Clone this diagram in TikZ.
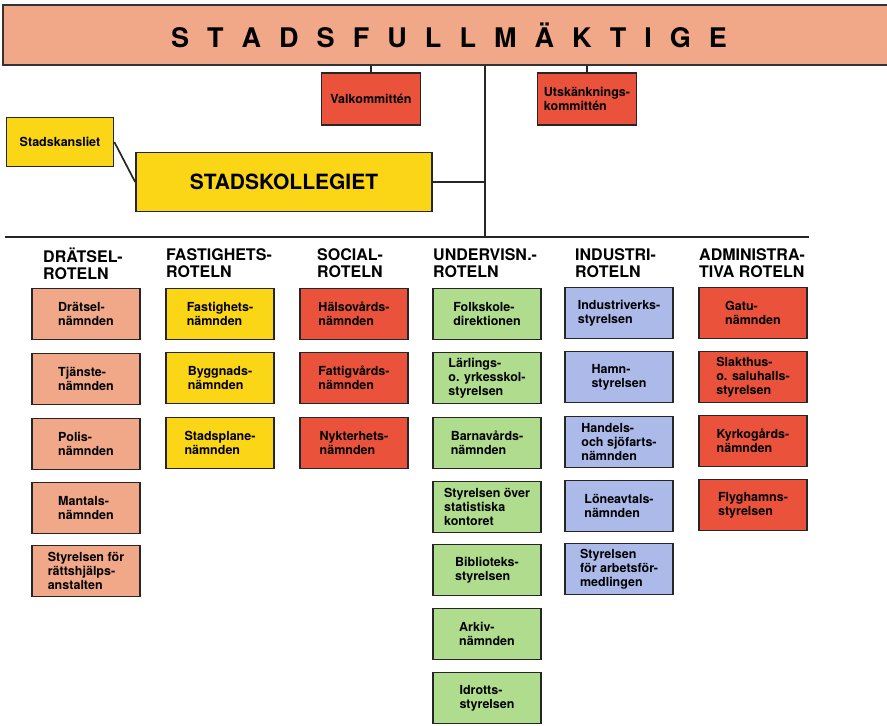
\documentclass[tikz,border=0pt]{standalone}
\usepackage{fontspec}
\setmainfont{TeX Gyre Heros}
\definecolor{laxrosa}{RGB}{240,168,136}
\definecolor{gulbox}{RGB}{250,214,22}
\definecolor{rodbox}{RGB}{234,82,60}
\definecolor{gronbox}{RGB}{176,220,142}
\definecolor{blabox}{RGB}{172,186,234}
\tikzset{
  rotbox/.style={draw=black!85, line width=1.7pt, minimum width=108pt, minimum height=51pt,
    align=left, inner sep=0pt, font=\fontsize{12.5}{14}\selectfont\bfseries},
  rothead/.style={anchor=north west, align=left, inner sep=0pt,
    font=\fontsize{16}{17}\selectfont\bfseries},
  linje/.style={line width=1.7pt, black!85}
}
\begin{document}
\begin{tikzpicture}[x=1pt,y=-1pt]
    \useasboundingbox (0,0) rectangle (887,726);
    % top level
    \node[draw=black!80, line width=1.5pt, fill=laxrosa, minimum width=892pt, minimum height=60pt, inner sep=0pt,
      font=\fontsize{27}{27}\selectfont\bfseries] (fullm) at (449,35)
      {\makebox[556pt][s]{S\hfill T\hfill A\hfill D\hfill S\hfill F\hfill U\hfill L\hfill L\hfill M\hfill Ä\hfill K\hfill T\hfill I\hfill G\hfill E}};
    \node[rotbox, fill=rodbox, minimum width=99pt, minimum height=52pt] (valk) at (371,99) {Valkommittén};
    \node[rotbox, fill=rodbox, minimum width=99pt, minimum height=52pt] (utsk) at (587,99) {Utskänknings-\\kommittén};
    \draw[linje] (valk.north) -- (valk.north |- fullm.south);
    \draw[linje] (utsk.north) -- (utsk.north |- fullm.south);
    % stadskollegiet
    \node[rotbox, fill=gulbox, minimum width=107pt, minimum height=49pt] (kansli) at (60,142) {Stadskansliet};
    \node[rotbox, fill=gulbox, minimum width=296pt, minimum height=59pt, font=\fontsize{21}{21}\selectfont\bfseries] (kolleg) at (284,182) {STADSKOLLEGIET};
    \draw[linje] (kansli.east) -- (kolleg.west);
    \coordinate (split) at (485,237);
    \draw[linje] (split |- fullm.south) -- (split);
    \draw[linje] (kolleg.east) -- (kolleg.east -| split);
    \draw[line width=2.4pt, black!85] (5,237) -- (809,237);
    % rotlar
    \node[rothead] (hdr) at (43,248) {DRÄTSEL-\\ROTELN};
    \node[rothead] (hfa) at (166,248) {FASTIGHETS-\\ROTELN};
    \node[rothead] (hso) at (317,248) {SOCIAL-\\ROTELN};
    \node[rothead] (hun) at (433,248) {UNDERVISN.-\\ROTELN};
    \node[rothead] (hin) at (575,248) {INDUSTRI-\\ROTELN};
    \node[rothead] (had) at (699,248) {ADMINISTRA-\\TIVA ROTELN};
    % drätselroteln
    \node[rotbox, fill=laxrosa] (dr1) at (86,314) {Drätsel-\\nämnden};
    \node[rotbox, fill=laxrosa] (dr2) at (86,379) {Tjänste-\\nämnden};
    \node[rotbox, fill=laxrosa] (dr3) at (86,444) {Polis-\\nämnden};
    \node[rotbox, fill=laxrosa] (dr4) at (86,508) {Mantals-\\nämnden};
    \node[rotbox, fill=laxrosa] (dr5) at (86,571) {Styrelsen för\\rättshjälps-\\anstalten};
    % fastighetsroteln
    \node[rotbox, fill=gulbox] (fa1) at (220,314) {Fastighets-\\nämnden};
    \node[rotbox, fill=gulbox] (fa2) at (220,378) {Byggnads-\\nämnden};
    \node[rotbox, fill=gulbox] (fa3) at (220,443) {Stadsplane-\\nämnden};
    % socialroteln
    \node[rotbox, fill=rodbox] (so1) at (354,314) {Hälsovårds-\\nämnden};
    \node[rotbox, fill=rodbox] (so2) at (354,378) {Fattigvårds-\\nämnden};
    \node[rotbox, fill=rodbox] (so3) at (354,443) {Nykterhets-\\nämnden};
    % undervisningsroteln
    \node[rotbox, fill=gronbox] (un1) at (487,314) {Folkskole-\\direktionen};
    \node[rotbox, fill=gronbox] (un2) at (487,378) {Lärlings-\\o. yrkesskol-\\styrelsen};
    \node[rotbox, fill=gronbox] (un3) at (487,443) {Barnavårds-\\nämnden};
    \node[rotbox, fill=gronbox] (un4) at (487,507) {Styrelsen över\\statistiska\\kontoret};
    \node[rotbox, fill=gronbox] (un5) at (487,570) {Biblioteks-\\styrelsen};
    \node[rotbox, fill=gronbox] (un6) at (487,634) {Arkiv-\\nämnden};
    \node[rotbox, fill=gronbox] (un7) at (487,698) {Idrotts-\\styrelsen};
    % industriroteln
    \node[rotbox, fill=blabox] (in1) at (619,313) {Industriverks-\\styrelsen};
    \node[rotbox, fill=blabox] (in2) at (619,377) {Hamn-\\styrelsen};
    \node[rotbox, fill=blabox] (in3) at (619,442) {Handels-\\och sjöfarts-\\nämnden};
    \node[rotbox, fill=blabox] (in4) at (619,506) {Löneavtals-\\nämnden};
    \node[rotbox, fill=blabox] (in5) at (619,569) {Styrelsen\\för arbetsför-\\medlingen};
    % administrativa roteln
    \node[rotbox, fill=rodbox] (ad1) at (753,313) {Gatu-\\nämnden};
    \node[rotbox, fill=rodbox] (ad2) at (753,377) {Slakthus-\\o. saluhalls-\\styrelsen};
    \node[rotbox, fill=rodbox] (ad3) at (753,441) {Kyrkogårds-\\nämnden};
    \node[rotbox, fill=rodbox] (ad4) at (753,505) {Flyghamns-\\styrelsen};
\end{tikzpicture}
\end{document}
